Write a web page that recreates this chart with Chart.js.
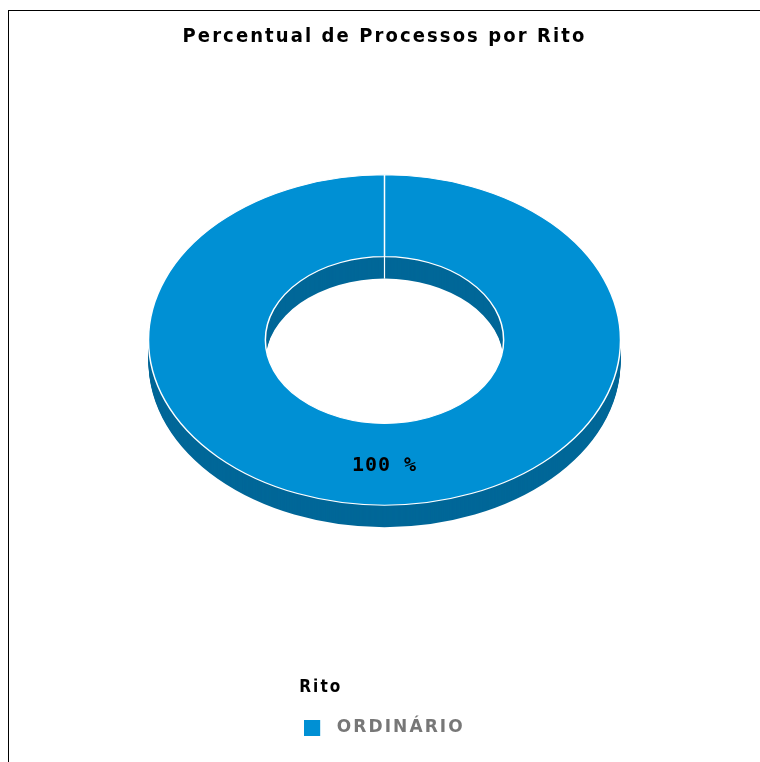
<!DOCTYPE html>
<html>
<head>
<meta charset="utf-8">
<script src="https://cdn.jsdelivr.net/npm/chart.js@4/dist/chart.umd.min.js"></script>
<style>
  body { margin: 0; background: #fff; }
  #wrap { position: relative; width: 760px; height: 762px; }
  #frame { position: absolute; left: 8px; top: 10px; right: 0; bottom: 0;
           border-left: 1px solid #000; border-top: 1px solid #000; }
</style>
</head>
<body>
<div id="wrap">
  <div id="frame"></div>
  <canvas id="ritoChart"></canvas>
</div>
<script>
var labels = ['ORDINÁRIO'];
var values = [100];
var topColors = ['rgb(0, 144, 212)'];
var sideColors = ['rgb(0, 103, 152)'];

document.addEventListener("DOMContentLoaded", function() {
    var SQUASH = 0.7;     // vertical flattening of the ring
    var DEPTH = 22;       // thickness of the 3d side
    var CENTER_Y = 340;
    var SPACING = '2.1px';

    function tilt(ctx, arc, dy) {
        ctx.translate(arc.x, CENTER_Y + dy);
        ctx.scale(1, SQUASH);
        ctx.translate(-arc.x, -arc.y);
    }

    // wide letter spacing like the original renderer
    var spaced = {
        id: 'spaced',
        beforeLayout: function(chart) { chart.ctx.letterSpacing = SPACING; },
        beforeDraw: function(chart) { chart.ctx.letterSpacing = SPACING; }
    };

    var ring3d = {
        id: 'ring3d',
        beforeDatasetsDraw: function(chart) {
            var ctx = chart.ctx;
            var arcs = chart.getDatasetMeta(0).data;
            for (var d = DEPTH; d >= 1; d--) {
                arcs.forEach(function(arc, i) {
                    var keep = arc.options;
                    arc.options = Object.assign({}, keep, { backgroundColor: sideColors[i], borderWidth: 0 });
                    ctx.save();
                    tilt(ctx, arc, d);
                    arc.draw(ctx);
                    ctx.restore();
                    arc.options = keep;
                });
            }
            // seam on the inner wall
            var a = arcs[0];
            var y1 = CENTER_Y - a.innerRadius * SQUASH;
            ctx.save();
            ctx.strokeStyle = '#fff';
            ctx.lineWidth = 1.2;
            ctx.beginPath();
            ctx.moveTo(a.x, y1);
            ctx.lineTo(a.x, y1 + DEPTH);
            ctx.stroke();
            ctx.restore();

            ctx.save();
            tilt(ctx, a, 0);
        },
        afterDatasetsDraw: function(chart) {
            var ctx = chart.ctx;
            ctx.restore();
            var arcs = chart.getDatasetMeta(0).data;
            var total = values.reduce(function(s, v) { return s + v; }, 0);
            ctx.save();
            ctx.font = 'bold 20px "DejaVu Sans Mono"';
            ctx.letterSpacing = '1px';
            ctx.fillStyle = '#000';
            ctx.textAlign = 'center';
            ctx.textBaseline = 'middle';
            arcs.forEach(function(arc, i) {
                var p = arc.tooltipPosition();
                var y = CENTER_Y + (p.y - arc.y) * SQUASH + 2;
                ctx.fillText(Math.round(values[i] / total * 100) + ' %', p.x, y);
            });
            ctx.restore();
        }
    };

    // legend marker: square with a gap after it
    var marker = document.createElement('canvas');
    marker.width = 24;
    marker.height = 16;
    var mctx = marker.getContext('2d');
    mctx.fillStyle = topColors[0];
    mctx.fillRect(0, 0, 16, 16);

    var ctx = document.getElementById('ritoChart').getContext('2d');
    new Chart(ctx, {
        type: 'doughnut',
        data: {
            labels: labels,
            datasets: [{
                data: values,
                backgroundColor: topColors,
                borderColor: '#fff',
                borderWidth: 1.5,
                hoverOffset: 0,
                clip: false
            }]
        },
        options: {
            responsive: true,
            maintainAspectRatio: false,
            animation: false,
            radius: 236,
            cutout: 119,
            layout: { padding: { left: 148, right: 139, top: 0, bottom: 16 } },
            plugins: {
                title: {
                    display: true,
                    text: 'Percentual de Processos por Rito',
                    color: '#000',
                    font: { family: '"DejaVu Sans Condensed", "DejaVu Sans"', weight: 'bold', size: 20 },
                    padding: { top: 25, bottom: 10 }
                },
                legend: {
                    position: 'bottom',
                    title: {
                        display: true,
                        text: 'Rito',
                        position: 'start',
                        color: '#000',
                        font: { family: '"DejaVu Sans Condensed", "DejaVu Sans"', weight: 'bold', size: 17 },
                        padding: { top: 0, bottom: 10 }
                    },
                    labels: {
                        usePointStyle: true,
                        pointStyle: marker,
                        pointStyleWidth: 24,
                        color: '#777',
                        font: { family: '"DejaVu Sans"', weight: 'bold', size: 17 }
                    }
                },
                tooltip: { enabled: false }
            }
        },
        plugins: [spaced, ring3d]
    });
});
</script>
</body>
</html>
